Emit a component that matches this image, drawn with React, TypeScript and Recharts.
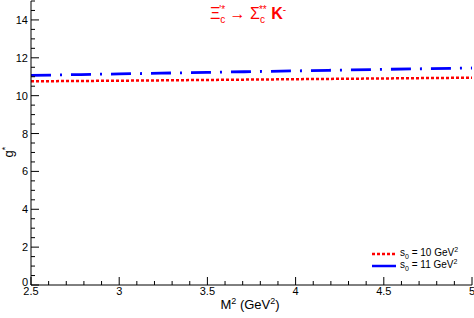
import { LineChart, Line, XAxis, YAxis } from 'recharts';

// M^2 (GeV^2) sampling points
const m2 = [2.5, 3, 3.5, 4, 4.5, 5];
// g* for s0 = 10 GeV^2 and s0 = 11 GeV^2
const gS10 = [10.76, 10.79, 10.83, 10.87, 10.91, 10.95];
const gS11 = [11.07, 11.15, 11.23, 11.31, 11.39, 11.46];

const xTicks = [
    2.5, 2.6, 2.7, 2.8, 2.9, 3, 3.1, 3.2, 3.3, 3.4, 3.5, 3.6, 3.7, 3.8, 3.9,
    4, 4.1, 4.2, 4.3, 4.4, 4.5, 4.6, 4.7, 4.8, 4.9, 5,
];
const yTicks = [
    0, 0.5, 1, 1.5, 2, 2.5, 3, 3.5, 4, 4.5, 5, 5.5, 6, 6.5, 7, 7.5, 8, 8.5, 9,
    9.5, 10, 10.5, 11, 11.5, 12, 12.5, 13, 13.5, 14, 14.5, 15,
];

const series = [
    { key: 's10', s0: '10', color: '#ff0000', dash: '3 2' },
    { key: 's11', s0: '11', color: '#0000ff', dash: '20 9 2 9' },
];

const FONT = '"Liberation Sans", Arial, sans-serif';

const chartData = m2.map((m, i) => ({ m, s10: gS10[i], s11: gS11[i] }));

const isMajorX = (v: number) => Math.abs(v * 2 - Math.round(v * 2)) < 1e-6;
const isMajorY = (v: number) => Math.abs(v / 2 - Math.round(v / 2)) < 1e-6;

function BottomTick({ x, y, payload }: any) {
    const major = isMajorX(payload.value);
    return (
        <g>
            <line x1={x} x2={x} y1={y} y2={y - (major ? 8 : 4)} stroke="#000" />
            {major && (
                <text x={x} y={y + 10} textAnchor="middle" fontSize={11} fontFamily={FONT} fill="#000">
                    {payload.value}
                </text>
            )}
        </g>
    );
}

function TopTick({ x, y, payload }: any) {
    const major = isMajorX(payload.value);
    return <line x1={x} x2={x} y1={y} y2={y + (major ? 8 : 4)} stroke="#000" />;
}

function LeftTick({ x, y, payload }: any) {
    const major = isMajorY(payload.value);
    return (
        <g>
            <line x1={x} x2={x + (major ? 8 : 4)} y1={y} y2={y} stroke="#000" />
            {major && payload.value < 15 && (
                <text
                    x={x - 3}
                    y={payload.value === 0 ? y + 1 : y + 4}
                    textAnchor="end"
                    fontSize={11}
                    fontFamily={FONT}
                    fill="#000"
                >
                    {payload.value}
                </text>
            )}
        </g>
    );
}

function RightTick({ x, y, payload }: any) {
    const major = isMajorY(payload.value);
    return <line x1={x} x2={x - (major ? 8 : 4)} y1={y} y2={y} stroke="#000" />;
}

export default function App() {
    return (
        <div style={{ position: 'absolute', left: 0, top: 0, width: 474, height: 318, background: '#fff' }}>
            <LineChart width={474} height={318} data={chartData} margin={{ top: 1, right: 2, bottom: 0, left: 0 }}>
                <XAxis
                    xAxisId="b"
                    dataKey="m"
                    type="number"
                    domain={[2.5, 5]}
                    ticks={xTicks}
                    interval={0}
                    height={33}
                    tickSize={0}
                    tickMargin={0}
                    tickLine={false}
                    stroke="#000"
                    tick={<BottomTick />}
                    allowDataOverflow
                />
                <XAxis
                    xAxisId="t"
                    orientation="top"
                    dataKey="m"
                    type="number"
                    domain={[2.5, 5]}
                    ticks={xTicks}
                    interval={0}
                    height={0}
                    tickSize={0}
                    tickMargin={0}
                    tickLine={false}
                    stroke="#000"
                    tick={<TopTick />}
                    allowDataOverflow
                />
                <YAxis
                    yAxisId="l"
                    type="number"
                    domain={[0, 15]}
                    ticks={yTicks}
                    interval={0}
                    width={31}
                    tickSize={0}
                    tickMargin={0}
                    tickLine={false}
                    stroke="#000"
                    tick={<LeftTick />}
                    allowDataOverflow
                />
                <YAxis
                    yAxisId="r"
                    orientation="right"
                    type="number"
                    domain={[0, 15]}
                    ticks={yTicks}
                    interval={0}
                    width={0}
                    tickSize={0}
                    tickMargin={0}
                    tickLine={false}
                    stroke="#000"
                    tick={<RightTick />}
                    allowDataOverflow
                />
                {series.map(s => (
                    <Line
                        key={s.key}
                        xAxisId="b"
                        yAxisId="l"
                        dataKey={s.key}
                        type="monotone"
                        stroke={s.color}
                        strokeWidth={s.key === 's10' ? 2.5 : 2.8}
                        strokeDasharray={s.dash}
                        dot={false}
                        isAnimationActive={false}
                    />
                ))}
            </LineChart>

            {/* 圖例 */}
            <div style={{ position: 'absolute', left: 370, top: 248, fontFamily: FONT, fontSize: 10, lineHeight: '12px' }}>
                {series.map(s => (
                    <div key={s.key} style={{ display: 'flex', alignItems: 'center', height: 12 }}>
                        <svg width={28} height={6}>
                            <line
                                x1={2}
                                x2={26}
                                y1={3}
                                y2={3}
                                stroke={s.color}
                                strokeWidth={2.5}
                                strokeDasharray={s.key === 's10' ? '3 2' : undefined}
                            />
                        </svg>
                        <span style={{ marginLeft: 2 }}>
                            s<sub style={{ fontSize: 7 }}>0</sub> = {s.s0} GeV
                            <sup style={{ fontSize: 7 }}>2</sup>
                        </span>
                    </div>
                ))}
            </div>

            {/* 標題與軸標 */}
            <svg width={474} height={318} style={{ position: 'absolute', left: 0, top: 0, pointerEvents: 'none' }}>
                <text x={248} y={19} textAnchor="middle" fill="#ff0000" fontFamily={FONT} fontSize={16}>
                    Ξ
                    <tspan fontSize={10} dy={4}>c</tspan>
                    <tspan fontSize={10} dx={-6} dy={-10}>'*</tspan>
                    <tspan dy={6}> → Σ</tspan>
                    <tspan fontSize={10} dy={4}>c</tspan>
                    <tspan fontSize={10} dx={-6} dy={-10}>**</tspan>
                    <tspan dy={6} fontWeight="bold"> K</tspan>
                    <tspan fontSize={10} dy={-6}>-</tspan>
                </text>
                <text x={250} y={309} textAnchor="middle" fill="#000" fontFamily={FONT} fontSize={13}>
                    M<tspan fontSize={9} dy={-5}>2</tspan>
                    <tspan dy={5}> (GeV</tspan>
                    <tspan fontSize={9} dy={-5}>2</tspan>
                    <tspan dy={5}>)</tspan>
                </text>
                <text
                    x={0}
                    y={0}
                    transform="translate(13,152) rotate(-90)"
                    textAnchor="middle"
                    fill="#000"
                    fontFamily={FONT}
                    fontSize={13}
                >
                    g<tspan fontSize={9} dy={-5}>*</tspan>
                </text>
            </svg>
        </div>
    );
}
